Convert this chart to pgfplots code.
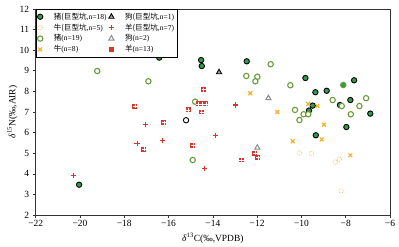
\documentclass[border=0pt]{standalone}
\usepackage{fontspec}
\setmainfont{Liberation Serif}
\newfontfamily\cjk{Noto Sans CJK SC}
\usepackage{pgfplots}
\pgfplotsset{compat=1.18}
\definecolor{pigg}{HTML}{2E9E4A}
\definecolor{pigo}{HTML}{6A9A3C}
\definecolor{cattlel}{HTML}{F2BE63}
\definecolor{cattle}{HTML}{F5B021}
\definecolor{sheep}{HTML}{D8352B}
\definecolor{dogg}{HTML}{8C8C8C}
\newcommand{\zh}[1]{{\cjk #1}}
\begin{document}
\begin{tikzpicture}
\useasboundingbox (-35.7bp,-32bp) rectangle (363.3bp,215bp);
\begin{axis}[
  width=354.3bp, height=206bp, scale only axis,
  xmin=-22, xmax=-6, ymin=2, ymax=12,
  xtick={-22,-20,-18,-16,-14,-12,-10,-8,-6},
  xticklabels={−22,−20,−18,−16,−14,−12,−10,−8,−6},
  ytick={2,3,...,12},
  /pgf/number format/assume math mode=true,
  tick align=outside, tick pos=left,
  major tick length=3bp,
  axis line style={black!80, line width=0.8pt},
  tick style={black!80, line width=0.6pt},
  ticklabel style={font=\fontsize{9.5}{11}\selectfont},
  xticklabel style={yshift=1bp},
  xlabel={\textit{δ}\textsuperscript{13}C(‰,VPDB)},
  ylabel={\textit{δ}\textsuperscript{15}N(‰,AIR)},
  label style={font=\fontsize{9.5}{11}\selectfont},
  xlabel style={at={(axis description cs:0.5,-0.112)}, anchor=center},
  ylabel style={at={(axis description cs:-0.066,0.5)}, anchor=center},
  legend columns=2,
  legend cell align=left,
  legend style={at={(0,1)}, anchor=north west, draw=black, line width=0.6pt,
    font=\fontsize{7.6}{9}\selectfont, inner sep=1.5pt, row sep=-1pt,
    /tikz/every odd column/.append style={column sep=9pt}},
  only marks,
]
% pig (giant pit)
\addplot[mark=*, mark size=2.7pt, mark options={fill=pigg, draw=black, line width=0.9pt}] coordinates {
(-17.19,9.80) (-16.42,9.64) (-14.53,9.52) (-14.50,9.23) (-20.04,3.47)
(-12.47,9.46) (-9.82,8.65) (-9.37,7.96) (-8.86,8.03) (-7.62,8.54)
(-7.79,7.58) (-8.26,7.34) (-6.89,6.92) (-9.66,7.07) (-9.49,7.31)
(-7.97,6.27) (-9.35,5.87)
};
\addlegendentry{\zh{猪(巨型坑},n=18)}
% dog (giant pit)
\addplot[mark=triangle*, mark size=3pt, mark options={fill=gray!70, draw=black, line width=0.9pt}] coordinates {
(-13.72,8.93)
};
\addlegendentry{\zh{狗(巨型坑},n=1)}
% cattle (giant pit)
\addplot[mark=o, mark size=2.3pt, mark options={draw=cattlel, line width=0.7pt, densely dotted}] coordinates {
(-10.08,5.01) (-9.55,4.98) (-8.47,4.56) (-8.29,4.70) (-8.21,3.17)
};
\addlegendentry{\zh{牛(巨型坑},n=5)}
% sheep (giant pit)
\addplot[mark=+, mark size=2.7pt, mark options={draw=sheep, line width=1.2pt}] coordinates {
(-17.05,6.38) (-17.42,5.48) (-16.28,5.61) (-13.87,5.85) (-14.38,4.27)
(-20.30,3.93) (-12.98,7.34)
};
\addlegendentry{\zh{羊(巨型坑},n=7)}
% pig
\addplot[mark=*, mark size=2.7pt, mark options={fill=white, draw=pigo, line width=1.1pt}] coordinates {
(-19.22,8.99) (-16.91,8.49) (-14.80,7.50) (-14.91,4.67) (-11.39,9.32)
(-12.49,8.75) (-11.99,8.71) (-12.08,8.49) (-10.50,8.30) (-8.59,7.58)
(-7.08,7.67) (-7.38,7.29) (-10.29,7.10) (-9.90,6.89) (-9.69,6.89)
(-10.09,6.61) (-7.77,6.89) (-8.18,7.29)
};
\addlegendentry{\zh{猪}(n=19)}
% dog
\addplot[mark=triangle, mark size=3pt, mark options={draw=dogg, line width=1pt}] coordinates {
(-11.49,7.67) (-11.99,5.27)
};
\addlegendentry{\zh{狗}(n=2)}
% cattle
\addplot[mark=x, mark size=2.7pt, mark options={draw=cattle, line width=1.2pt}] coordinates {
(-12.31,7.91) (-11.09,7.00) (-9.69,7.39) (-9.28,7.29) (-8.98,6.38)
(-10.39,5.58) (-9.08,5.67) (-7.79,4.90)
};
\addlegendentry{\zh{牛}(n=8)}
% sheep
\addplot[mark=square*, mark size=2pt, mark options={fill=sheep, draw=sheep, line width=0pt}] coordinates {
(-14.41,8.08) (-17.52,7.28) (-15.11,7.10) (-14.67,7.39) (-14.49,7.39)
(-14.31,7.39) (-14.50,7.00) (-16.21,6.48) (-17.11,5.19) (-14.90,5.38)
(-12.70,4.67) (-12.10,5.00) (-11.97,4.78)
};
\addlegendentry{\zh{羊}(n=13)}
% white cross overlay for sheep
\addplot[forget plot, mark=+, mark size=2.2pt, mark options={draw=white, line width=0.6pt}] coordinates {
(-14.41,8.08) (-17.52,7.28) (-15.11,7.10) (-14.67,7.39) (-14.49,7.39)
(-14.31,7.39) (-14.50,7.00) (-16.21,6.48) (-17.11,5.19) (-14.90,5.38)
(-12.70,4.67) (-12.10,5.00) (-11.97,4.78)
};
% extra points
\addplot[forget plot, mark=*, mark size=2.7pt, mark options={fill=white, draw=black, line width=0.9pt}] coordinates {(-15.21,6.60)};
\addplot[forget plot, mark=*, mark size=2.7pt, mark options={fill=pigg, draw=pigo, line width=1.1pt}] coordinates {(-8.11,8.31)};
\end{axis}
\end{tikzpicture}
\end{document}
